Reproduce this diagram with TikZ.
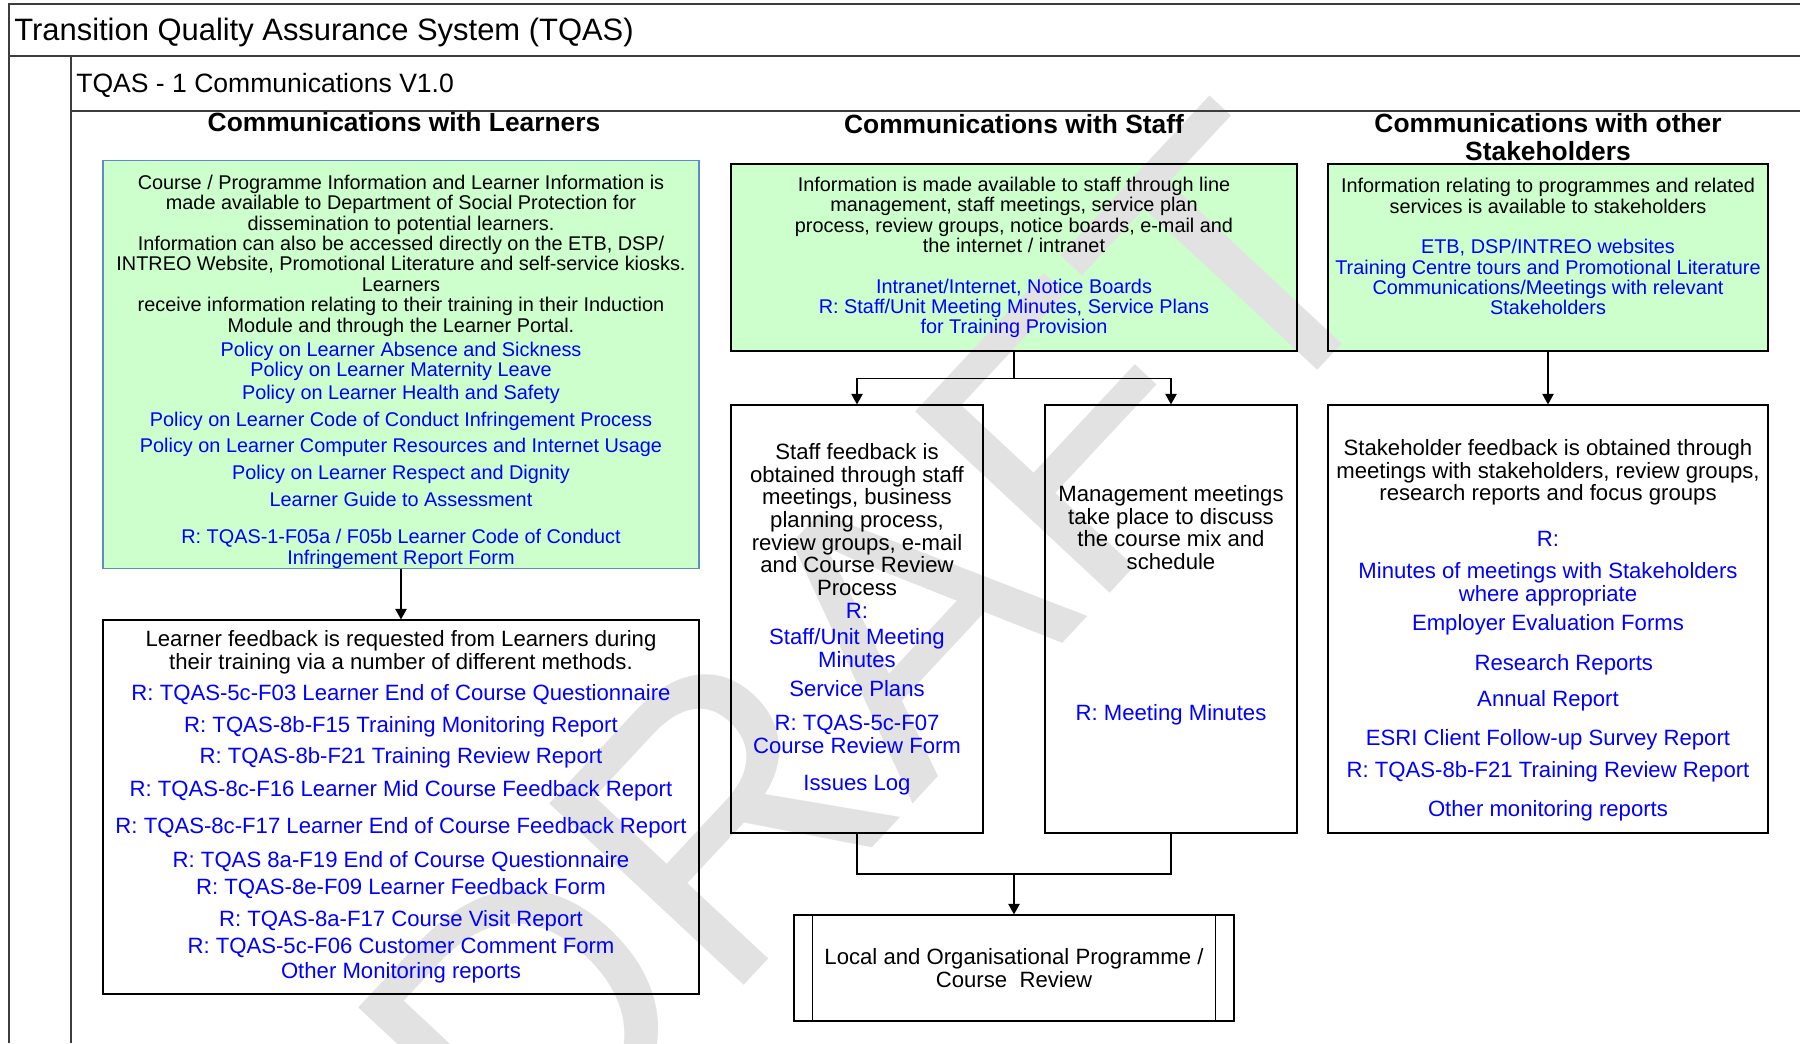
\documentclass[tikz,border=0pt]{standalone}
\usepackage{fontspec}
\setmainfont{Liberation Sans}
\usetikzlibrary{arrows.meta}

\definecolor{infogreen}{RGB}{204,255,204}
\definecolor{refblue}{RGB}{0,0,255}
\definecolor{lrnedge}{RGB}{95,140,200}
\definecolor{framegray}{RGB}{60,60,60}
\definecolor{wmgray}{RGB}{226,226,226}

\pgfdeclarelayer{fills}
\pgfdeclarelayer{wmark}
\pgfsetlayers{fills,wmark,main}

\newcommand{\rf}[1]{\textcolor{refblue}{#1}}

\tikzset{
  infobox/.style={draw=black, line width=0.7pt, align=center, inner sep=0pt,
                  font=\fontsize{11.3}{11.6}\selectfont},
  fbbox/.style={draw=black, line width=0.7pt, align=center, inner sep=0pt,
                font=\fontsize{12.6}{12.9}\selectfont},
  heading/.style={align=center, inner sep=0pt, font=\fontsize{15}{15.7}\selectfont\bfseries},
  frame/.style={draw=framegray, line width=1.1pt},
  conn/.style={line width=0.7pt},
  arr/.style={conn, -{Triangle[width=6.5pt,length=6pt]}},
}

\begin{document}
\begin{tikzpicture}[x=0.2mm, y=-0.2mm]
%\draw[step=100,gray,very thin] (0,0) grid (1800,1043);
\useasboundingbox (0,0) rectangle (1800,1043);

% lanes
\draw[frame] (1800,4) -- (9,4) -- (9,1043);
\draw[frame] (9,56) -- (1800,56);
\draw[frame] (71,56) -- (71,1043);
\draw[frame] (71,111) -- (1800,111);
\node[anchor=west, inner sep=0pt, font=\fontsize{17.6}{20}\selectfont] (title) at (14,32.5) {Transition Quality Assurance System (TQAS)};
\node[anchor=west, inner sep=0pt, font=\fontsize{15.1}{17}\selectfont] (subtitle) at (76,85) {TQAS - 1 Communications V1.0};

\node[heading] (hlrn) at (404,122) {Communications with Learners};
\node[heading] (hstf) at (1014,124) {Communications with Staff};
\node[heading] (hstk) at (1548,137) {Communications with other\\Stakeholders};

% learners
\node[infobox, draw=lrnedge, minimum width=119.2mm, minimum height=80.2mm] (lrninfo) at (401,364.5) {%
\mbox{}\\[4.6pt]
Course / Programme Information and Learner Information is\\
made available to Department of Social Protection for\\
dissemination to potential learners.\\
Information can also be accessed directly on the ETB, DSP/\\
INTREO Website, Promotional Literature and self-service kiosks.\\
Learners\\
receive information relating to their training in their Induction\\
Module and through the Learner Portal.\\[2.2pt]
\rf{Policy on Learner Absence and Sickness}\\
\rf{Policy on Learner Maternity Leave}\\[1.5pt]
\rf{Policy on Learner Health and Safety}\\[3.5pt]
\rf{Policy on Learner Code of Conduct Infringement Process}\\[3.5pt]
\rf{Policy on Learner Computer Resources and Internet Usage}\\[3.5pt]
\rf{Policy on Learner Respect and Dignity}\\[4.1pt]
\rf{Learner Guide to Assessment}\\[9.3pt]
\rf{R: TQAS-1-F05a / F05b Learner Code of Conduct}\\
\rf{Infringement Report Form}};

\node[fbbox, minimum width=119.2mm, minimum height=74.8mm] (lrnfb) at (401,807) {%
Learner feedback is requested from Learners during\\
their training via a number of different methods.\\[4.6pt]
\rf{R: TQAS-5c-F03 Learner End of Course Questionnaire}\\[5.2pt]
\rf{R: TQAS-8b-F15 Training Monitoring Report}\\[5.2pt]
\rf{R: TQAS-8b-F21 Training Review Report}\\[5.9pt]
\rf{R: TQAS-8c-F16 Learner Mid Course Feedback Report}\\[7.8pt]
\rf{R: TQAS-8c-F17 Learner End of Course Feedback Report}\\[6.5pt]
\rf{R: TQAS 8a-F19 End of Course Questionnaire}\\[2.6pt]
\rf{R: TQAS-8e-F09 Learner Feedback Form}\\[5.2pt]
\rf{R: TQAS-8a-F17 Course Visit Report}\\[2.6pt]
\rf{R: TQAS-5c-F06 Customer Comment Form}\\[1.3pt]
\rf{Other Monitoring reports}};

% staff
\node[infobox, minimum width=113.2mm, minimum height=37.4mm] (stfinfo) at (1014,257.5) {%
Information is made available to staff through line\\
management, staff meetings, service plan\\
process, review groups, notice boards, e-mail and\\
the internet / intranet\\[11.6pt]
\rf{Intranet/Internet, Notice Boards}\\
\rf{R: Staff/Unit Meeting Minutes, Service Plans}\\
\rf{for Training Provision}};

\node[fbbox, minimum width=50.4mm, minimum height=85.6mm] (stffb) at (857,619) {%
Staff feedback is\\
obtained through staff\\
meetings, business\\
planning process,\\
review groups, e-mail\\
and Course Review\\
Process\\
\rf{R:}\\[2.2pt]
\rf{Staff/Unit Meeting}\\
\rf{Minutes}\\[3.5pt]
\rf{Service Plans}\\[6.7pt]
\rf{R: TQAS-5c-F07}\\
\rf{Course Review Form}\\[8pt]
\rf{Issues Log}};

\node[fbbox, minimum width=50.4mm, minimum height=85.6mm] (mgmt) at (1171,619) {%
Management meetings\\
take place to discuss\\
the course mix and\\
schedule\\[73pt]
\rf{R: Meeting Minutes}\\[5.3pt]
\mbox{}};

% stakeholders
\node[infobox, minimum width=88mm, minimum height=37.4mm] (stkinfo) at (1548,257.5) {%
Information relating to programmes and related\\
services is available to stakeholders\\[11.6pt]
\rf{ETB, DSP/INTREO websites}\\
\rf{Training Centre tours and Promotional Literature}\\
\rf{Communications/Meetings with relevant}\\
\rf{Stakeholders}\\[0.8pt]
\mbox{}};

\node[fbbox, minimum width=88mm, minimum height=85.6mm] (stkfb) at (1548,619) {%
\mbox{}\\[9pt]
Stakeholder feedback is obtained through\\
meetings with stakeholders, review groups,\\
research reports and focus groups\\[13.3pt]
\rf{R:}\\[5.4pt]
\rf{Minutes of meetings with Stakeholders}\\
\rf{where appropriate}\\[3.5pt]
\rf{Employer Evaluation Forms}\\[10pt]
\rf{\hspace*{18pt}Research Reports}\\[7.4pt]
\rf{Annual Report}\\[9.3pt]
\rf{ESRI Client Follow-up Survey Report}\\[5.4pt]
\rf{R: TQAS-8b-F21 Training Review Report}\\[9.3pt]
\rf{Other monitoring reports}};

% review
\node[fbbox, minimum width=88mm, minimum height=21.2mm] (review) at (1014,968) {%
Local and Organisational Programme /\\
Course\ \ Review};
\draw[conn] ([xshift=3.8mm]review.north west) -- ([xshift=3.8mm]review.south west);
\draw[conn] ([xshift=-3.8mm]review.north east) -- ([xshift=-3.8mm]review.south east);

% connectors
\coordinate (stfsplit) at (1014,378.5);
\coordinate (fbjoin) at (1014,874);
\draw[arr] (lrninfo) -- (lrnfb);
\draw[conn] (stfinfo) -- (stfsplit);
\draw[arr] (stfsplit) -| (stffb);
\draw[arr] (stfsplit) -| (mgmt);
\draw[arr] (stkinfo) -- (stkfb);
\draw[conn] (stffb) |- (fbjoin);
\draw[conn] (mgmt) |- (fbjoin);
\draw[arr] (fbjoin) -- (review);

\begin{pgfonlayer}{fills}
\foreach \b in {lrninfo,stfinfo,stkinfo}
  \fill[infogreen] (\b.south west) rectangle (\b.north east);
\end{pgfonlayer}

\begin{pgfonlayer}{wmark}
\node[rotate=47, inner sep=0pt, text=wmgray, font=\fontsize{220}{220}\selectfont] (draftmark) at (874,651) {DRAFT};
\end{pgfonlayer}
\end{tikzpicture}
\end{document}
